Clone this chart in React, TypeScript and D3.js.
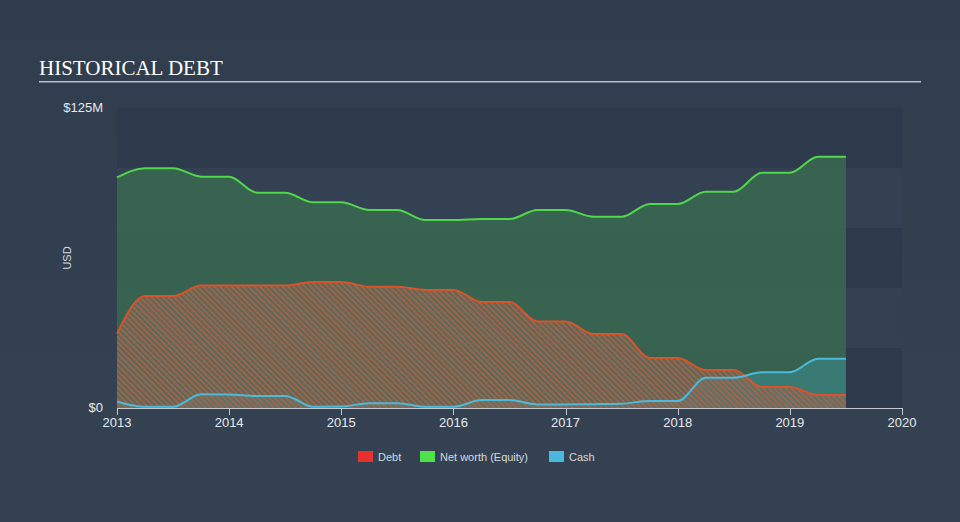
import React from "react";
import * as d3 from "d3";

const dates = [
  2013.0, 2013.25, 2013.5, 2013.75, 2014.0, 2014.25, 2014.5, 2014.75, 2015.0, 2015.25,
  2015.5, 2015.75, 2016.0, 2016.25, 2016.5, 2016.75, 2017.0, 2017.25, 2017.5, 2017.75,
  2018.0, 2018.25, 2018.5, 2018.75, 2019.0, 2019.25, 2019.5,
];
const debt = [
  31, 46.7, 46.7, 51, 51, 51, 51, 52.5, 52.5, 50.5,
  50.5, 49.2, 49.2, 44.2, 44.2, 36, 36, 30.8, 30.8, 20.8,
  20.8, 15.8, 15.8, 8.75, 8.75, 5.4, 5.4,
];
const equity = [
  96.1, 99.9, 99.9, 96.4, 96.4, 89.7, 89.7, 85.7, 85.7, 82.5,
  82.5, 78.3, 78.3, 78.75, 78.75, 82.5, 82.5, 79.7, 79.7, 85,
  85, 90.1, 90.1, 98, 98, 104.7, 104.7,
];
const cash = [
  2.6, 0.5, 0.5, 5.7, 5.6, 5.0, 5.0, 0.5, 0.6, 2.0,
  2.0, 0.5, 0.5, 3.3, 3.3, 1.5, 1.5, 1.6, 1.8, 2.9,
  2.9, 12.6, 12.6, 14.9, 14.9, 20.5, 20.5,
];
const xTicks = [2013, 2014, 2015, 2016, 2017, 2018, 2019, 2020];
const yTickLabels = ["$0", "$125M"];
const yTickValues = [0, 125];
const legendItems = ["Debt", "Net worth (Equity)", "Cash"];

const W = 960;
const H = 522;
const left = 117;
const right = 902;
const top = 108;
const bottom = 408;

export default function App() {
  const x = d3.scaleLinear().domain([2013, 2020]).range([left, right]);
  const y = d3.scaleLinear().domain([0, 125]).range([bottom, top]);
  const idx = dates.map((_, i) => i);

  const mkArea = (vals: number[]) =>
    d3
      .area<number>()
      .x((i) => x(dates[i]))
      .y0(y(0))
      .y1((i) => y(vals[i]))
      .curve(d3.curveMonotoneX)(idx) || "";
  const mkLine = (vals: number[]) =>
    d3
      .line<number>()
      .x((i) => x(dates[i]))
      .y((i) => y(vals[i]))
      .curve(d3.curveMonotoneX)(idx) || "";

  const bands = d3.range(5).map((k) => {
    const y1 = top + (k * (bottom - top)) / 5;
    return { y: y1, h: (bottom - top) / 5, dark: k % 2 === 0 };
  });

  const legendColors = ["#e8302f", "#4fe04a", "#4bb8de"];
  const legendX = [358, 420, 549];

  return (
    <div style={{ position: "fixed", left: 0, top: 0, width: W, height: H }}>
      <svg width={W} height={H} style={{ display: "block" }}>
        <defs>
          <linearGradient id="bg" x1="0" y1="0" x2="0" y2="1">
            <stop offset="0" stopColor="#303d4d" />
            <stop offset="1" stopColor="#344253" />
          </linearGradient>
          <pattern
            id="hatch"
            patternUnits="userSpaceOnUse"
            width="4"
            height="4"
            patternTransform="rotate(-45)"
          >
            <rect x="0" y="0" width="4" height="4" fill="#6a6e66" fillOpacity="0.6" />
            <rect x="0" y="0" width="2" height="4" fill="#b8603e" fillOpacity="0.75" />
          </pattern>
        </defs>
        <rect x={0} y={0} width={W} height={H} fill="url(#bg)" />
        <text
          x={39}
          y={75}
          fontFamily="'Liberation Serif', 'DejaVu Serif', serif"
          fontSize={21}
          fill="#ffffff"
        >
          HISTORICAL DEBT
        </text>
        <rect x={39} y={81} width={882} height={1.5} fill="#b9bfc7" />

        {bands.map((b, i) => (
          <rect
            key={i}
            x={left}
            y={b.y}
            width={right - left}
            height={b.h}
            fill={b.dark ? "#2d3a4b" : "#334153"}
          />
        ))}

        <path d={mkArea(equity)} fill="#3a6751" fillOpacity={0.9} />
        <path d={mkArea(cash)} fill="#3a8e94" fillOpacity={0.55} />
        <path d={mkArea(debt)} fill="url(#hatch)" />
        <path d={mkLine(equity)} fill="none" stroke="#4fd84a" strokeWidth={2} />
        <path d={mkLine(debt)} fill="none" stroke="#d9532b" strokeWidth={2} />
        <path d={mkLine(cash)} fill="none" stroke="#4bbadc" strokeWidth={2} />

        <line x1={left} x2={right} y1={bottom + 0.5} y2={bottom + 0.5} stroke="#c2c8cf" strokeWidth={1} />
        {xTicks.map((t) => (
          <g key={t}>
            <line
              x1={Math.round(x(t)) + 0.5}
              x2={Math.round(x(t)) + 0.5}
              y1={bottom}
              y2={bottom + 7}
              stroke="#c2c8cf"
              strokeWidth={1}
            />
            <text
              x={x(t)}
              y={427}
              textAnchor="middle"
              fontFamily="'Liberation Sans', Arial, sans-serif"
              fontSize={13}
              fill="#e6e9ed"
            >
              {t}
            </text>
          </g>
        ))}
        {yTickValues.map((v, i) => (
          <text
            key={v}
            x={103}
            y={y(v) + 4}
            textAnchor="end"
            fontFamily="'Liberation Sans', Arial, sans-serif"
            fontSize={13}
            fill="#e6e9ed"
          >
            {yTickLabels[i]}
          </text>
        ))}
        <text
          transform="translate(71,258) rotate(-90)"
          textAnchor="middle"
          fontFamily="'Liberation Sans', Arial, sans-serif"
          fontSize={11}
          fill="#d5d9de"
        >
          USD
        </text>

        {legendItems.map((name, i) => (
          <g key={name}>
            <rect x={legendX[i]} y={451} width={15} height={11} fill={legendColors[i]} />
            <text
              x={legendX[i] + 20}
              y={460.5}
              fontFamily="'Liberation Sans', Arial, sans-serif"
              fontSize={11}
              fill="#d5d9de"
            >
              {name}
            </text>
          </g>
        ))}
      </svg>
    </div>
  );
}
